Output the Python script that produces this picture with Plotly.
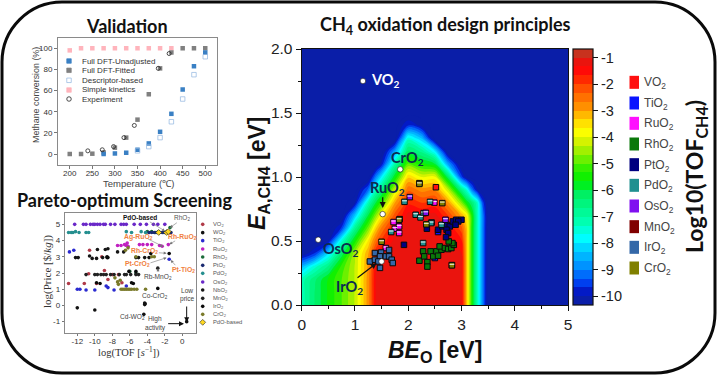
import plotly.graph_objects as go

W, H = 720, 382
SANS = "Liberation Sans"
CAL = "Lato"
SERIF = "Liberation Serif"

# ---------- Validation panel ----------
temp_unadj = [275, 300, 325, 350, 375, 400, 425, 450, 475, 500]
conv_unadj = [0, 0.5, 1.2, 4, 10, 21, 38, 61, 83, 96]
temp_fit = [200, 225, 250, 275, 300, 325, 350, 375, 400, 425, 450, 475, 500]
conv_fit = [0, 0, 0.3, 1.5, 6, 15.5, 32.5, 56.5, 81, 96, 100, 100, 100]
temp_desc = [350, 375, 400, 425, 450, 475, 500]
conv_desc = [3, 7, 15.5, 30.5, 52, 75, 92]
temp_simple = [200, 225, 250, 275, 300, 325, 350, 375, 400, 425]
conv_simple = [98, 100, 100, 100, 100, 100, 100, 100, 100, 100]
temp_exp = [240, 272, 297, 320, 343, 396, 420]
conv_exp = [3, 4, 7, 15.5, 27, 81, 95]

# ---------- Pareto panel: log TOF, log price ----------
pareto = {
    "VO2": ("#b03a48", [-13, -11.2, -10.7, -9.8, -8.9, -8.5, -8, -7.3, -6.9, -10.6, -9.2],
            [1.35, 1.35, 1.95, 1.35, 2.15, 1.6, 1.9, 1.9, 1.4, 3.4, 3.0]),
    "WO2": ("#111111", [-12, -10, -4.3, -4.3, -4.4, -4.25, 0.5], [-0.15, -0.28, 0.15, 0.05, -0.55, 0.1, -1]),
    "TiO2": ("#2a2ad0", [-12, -11.7, -11, -10, -8.7, -8.5, -7.8, -6.4, -12.9, -12.4, -1.5],
             [1, 1, 0.95, 0.95, 1.2, 1.1, 0.95, 1.2, 3.3, 3.4, 2.85]),
    "RuO2": ("#c020c0", [-6.3, -6.2, -6.4, -6.6, -7.4, -7, -4.9, -4.5, -4, -3.5, -2.6, -2.3, -1.6],
             [3.85, 3.65, 3.7, 3.75, 3.7, 3.7, 3.75, 3.75, 3.75, 3.75, 3.7, 3.65, 3.75]),
    "RhO2": ("#1c6b3a", [-4, -3.5, -3.1, -2.7, -2.2, -1.4, -5.3, -6.0], [4.55, 4.55, 4.5, 4.55, 4.5, 4.8, 2.0, 2.1]),
    "PtO2": ("#1a2a70", [-3.8, -3.5, -3.2, -2.9, -2.6, -2.3, -2, -1.6, -1.3], [4.5, 4.5, 4.5, 4.5, 4.5, 4.5, 4.5, 4.55, 4.5]),
    "PdO2": ("#258f8f", [-13, -12.7, -12.5, -12.2, -11.8, -11, -10.7, -6.4, -5.8, -4.7, -4.2],
             [4.5, 4.5, 4.5, 4.55, 4.5, 4.5, 4.5, 4.55, 4.5, 4.55, 4.5]),
    "OsO2": ("#6a28c8", [-12.3, -11.3, -11, -10.5, -10.2, -10, -9.7, -9.4, -9, -8.8, -8.2, -7.7, -7, -6.7, -6.4, -5.5, -4.8, -4.1, -3.3, -2.8, -2],
             [5] * 21),
    "NbO2": ("#151515", [-12.2, -11.9, -10.6, -10.3, -9.8, -9.1, -8.6, -7.4, -6.7, -8.8, -8.5, -9.7, -5.3, -5, -4.3, -3.8],
             [2.95, 2.95, 3.05, 2.9, 2.9, 2.95, 2.95, 3.3, 3.3, 3.45, 3.5, 3.45, 2.95, 2.95, 2.95, 2.95]),
    "MnO2": ("#222222", [-11, -10, -9.7, -9.3, -9, -8.7, -8.2, -7.8, -7.2, -6.6, -6.4, -5.9, -5.3, -5, -2.8],
             [1.9, 1.9, 1.9, 1.9, 1.9, 1.9, 1.9, 1.9, 1.9, 1.9, 1.9, 1.9, 1.9, 1.9, 2.3]),
    "IrO2": ("#0a0a0a", [-5.3, -6.1, -9.8, -9.4, -5.8, -5.6, -3.6, -2.8, -1.5, -8.6, -8.5],
             [2.1, 2.1, 1.4, 1.35, 1.4, 1.35, 3.2, 1.05, 3.2, 3.0, 2.95]),
    "CrO2": ("#7a7a2a", [-7.1, -7.7, -7.4, -7.3, -7, -6.8, -6.6, -6.4, -6.2, -6, -5.8, -5.5, -5.2, -4.2, -6.2, -6.5, -5.3, -3.5, -3.2],
             [1.55, 1.7, 1.45, 1.3, 1, 1, 1, 1, 1, 1, 1, 1, 1, 1, 3.55, 3.4, 3.0, 3.0, 3.0]),
}
pdo_x = [-2.7, -1.8, -1.6]
pdo_y = [4.5, 4.5, 4.55]

# ---------- Volcano map: values read column by column ----------
be_grid = [0, .25, .5, .75, 1, 1.25, 1.4, 1.5, 1.75, 2, 2.25, 2.5, 2.75, 3, 3.1, 3.2, 3.3, 3.4, 3.5, 5]
ea_grid = [0, .1, .2, .3, .4, .5, .6, .7, .8, .9, 1.0, 1.1, 1.2, 1.3, 1.4, 1.5, 2.0]
N = -10.5
R0 = -1.2  # the flat red core
log_tof_cols = [
    [-7.2, -7.2, -7.2, -8.5, -10.3, N, N, N, N, N, N, N, N, N, N, N, N],
    [-6.3, -6.3, -6.4, -7.45, -9.6, N, N, N, N, N, N, N, N, N, N, N, N],
    [-5.6, -5.6, -5.6, -6.6, -8, -10, N, N, N, N, N, N, N, N, N, N, N],
    [-5, -5, -5, -5.2, -6.2, -7.45, -9.6, N, N, N, N, N, N, N, N, N, N],
    [-4.3, -4.3, -4.3, -4.3, -4.4, -5.5, -6.75, -8.3, -10.1, N, N, N, N, N, N, N, N],
    [-2.8, -2.8, -2.8, -2.9, -3, -3.6, -4.8, -5.95, -7.2, -9.2, N, N, N, N, N, N, N],
    [R0, R0, R0, -1.3, -1.6, -2.4, -3.3, -4.6, -5.9, -7.2, -8.9, N, N, N, N, N, N],
    [R0, R0, R0, R0, -1.3, -1.9, -2.6, -3.7, -5.2, -6.5, -7.9, -9.9, N, N, N, N, N],
    [R0, R0, R0, R0, R0, R0, -1.45, -2.15, -3, -4.25, -5.7, -7, -8.7, N, N, N, N],
    [R0, R0, R0, R0, R0, R0, R0, R0, -1.75, -2.4, -3.4, -4.9, -6.2, -7.45, -9.6, N, N],
    [R0, R0, R0, R0, R0, R0, R0, -1.3, -2, -2.8, -4, -5.5, -6.75, -8.3, -10.1, N, N],
    [R0, R0, R0, R0, R0, R0, R0, R0, -1.9, -2.7, -3.9, -5.9, -7.9, N, N, N, N],
    [R0, R0, R0, R0, R0, R0, -1.3, -2, -2.9, -4.3, -6.2, -8.7, N, N, N, N, N],
    [R0, R0, R0, R0, -1.3, -1.6, -2.2, -3.1, -4.7, -6.6, -9.5, N, N, N, N, N, N],
    [-3.3, -3.3, -3.3, -3.3, -3.3, -3.3, -3.3, -3.7, -5.7, -7.5, -10.3, N, N, N, N, N, N],
    [-5.5, -5.5, -5.5, -5.5, -5.5, -5.5, -5.5, -5.5, -6.4, -9.1, N, N, N, N, N, N, N],
    [-7.3, -7.3, -7.3, -7.3, -7.3, -7.3, -7.3, -7.3, -7.4, -10.1, N, N, N, N, N, N, N],
    [-9, -9, -9, -9, -9, -9, -9, -9, -9.5, N, N, N, N, N, N, N, N],
    [N] * 17,
    [N] * 17,
]

oxide_pts = {
    "VO2": ("#ff1010", [2.52], [0.92]),
    "TiO2": ("#0a14ff", [2.56, 2.5], [0.57, 0.367]),
    "RuO2": ("#ff10ff", [1.725, 1.75, 1.83, 1.83, 2.49, 1.58, 2.44], [0.648, 0.596, 0.614, 0.562, 0.8, 0.445, 0.645]),
    "RhO2": ("#0a780a", [2.21, 2.28, 2.3, 2.36, 2.36, 2.42, 2.47, 2.53, 2.56, 2.625, 2.59, 2.69, 2.75, 2.81, 2.856, 2.83, 2.76, 2.82],
             [0.346, 0.419, 0.38, 0.335, 0.3, 0.419, 0.38, 0.419, 0.385, 0.432, 0.458, 0.445, 0.437, 0.445, 0.47, 0.484, 0.497, 0.312]),
    "PtO2": ("#000080", [2.35, 2.56, 2.64, 2.72, 2.78, 2.72, 2.75, 2.71, 2.84, 2.9, 3.0, 2.94, 2.89, 1.92],
             [0.596, 0.588, 0.614, 0.627, 0.614, 0.588, 0.562, 0.53, 0.653, 0.666, 0.666, 0.653, 0.627, 0.47]),
    "PdO2": ("#209090", [1.68, 2.14, 2.23, 2.29, 2.43, 2.41, 2.28, 1.93, 2.625],
             [0.57, 0.705, 0.684, 0.718, 0.64, 0.806, 0.484, 0.806, 0.627]),
    "OsO2": ("#8010f0", [2.03, 2.33, 2.7], [0.843, 0.72, 0.666]),
    "MnO2": ("#800000", [2.21, 1.84], [0.952, 0.671]),
    "IrO2": ("#3468a8", [1.375, 1.49, 1.64, 1.28, 1.375, 1.47, 1.58, 1.64, 1.69, 1.71, 1.47, 1.44],
             [0.406, 0.41, 0.43, 0.34, 0.354, 0.38, 0.38, 0.38, 0.354, 0.328, 0.29, 0.34]),
    "CrO2": ("#808000", [2.21, 2.64, 2.34, 1.5, 1.83, 2.82], [0.946, 0.796, 0.63, 0.494, 0.666, 0.31]),
}
highlighted = ["RuO2", "PdO2", "OsO2", "CrO2", "MnO2"]
named_x = [1.15, 1.85, 1.52, 0.31, 1.5]
named_y = [1.75, 1.06, 0.71, 0.51, 0.34]

cb_ticks = [-1, -2, -3, -4, -5, -6, -7, -8, -9, -10]
cb_scale = [
    [0, "#0a1ea8"], [0.035, "#0a1ea8"], [0.06, "#0018d0"], [0.09, "#0040f0"], [0.14, "#0080ff"], [0.21, "#00c0ff"],
    [0.27, "#00ffff"], [0.34, "#00ffb0"], [0.45, "#00f060"], [0.5, "#00f000"], [0.55, "#30f000"],
    [0.65, "#c8f000"], [0.7, "#ffff00"], [0.75, "#ffd000"], [0.79, "#ff9a00"], [0.86, "#ff6000"],
    [0.91, "#ff2a00"], [0.95, "#ff0808"], [0.975, "#f80808"], [1, "#c8321e"],
]


def dom_x(a, b):
    return [a / W, b / W]


def dom_y(top, bottom):
    return [1 - bottom / H, 1 - top / H]


fig = go.Figure()


def val(x, y, sym, col, size, lw=0, lc=None):
    fig.add_trace(go.Scatter(x=x, y=y, mode="markers", xaxis="x", yaxis="y", showlegend=False,
                             marker=dict(symbol=sym, color=col, size=size,
                                         line=dict(width=lw, color=lc or col))))


val(temp_simple, conv_simple, "square", "#ffb4bc", 4.5)
val(temp_fit, conv_fit, "square", "#808080", 4.5)
val(temp_unadj, conv_unadj, "square", "#3a80c4", 4.5)
val(temp_desc, conv_desc, "square-open", "#8fb4e0", 4.5, 0.7)
val(temp_exp, conv_exp, "circle-open", "#222222", 4, 0.8)

for name, (c, xs, ys) in pareto.items():
    fig.add_trace(go.Scatter(x=xs, y=ys, mode="markers", xaxis="x2", yaxis="y2", name=name, showlegend=False,
                             marker=dict(color=c, size=3.6)))
fig.add_trace(go.Scatter(x=pdo_x, y=pdo_y, mode="markers", xaxis="x2", yaxis="y2", showlegend=False,
                         marker=dict(symbol="diamond", color="#ffd820", size=4.5, line=dict(width=0.6, color="#222"))))

fig.add_trace(go.Contour(
    x=be_grid, y=ea_grid, z=[list(r) for r in zip(*log_tof_cols)],
    xaxis="x3", yaxis="y3", colorscale=cb_scale, zmin=-10.33, zmax=-0.67, zauto=False,
    contours=dict(start=-10.33, end=-0.67, size=1 / 3, coloring="fill", showlines=False),
    line=dict(width=0), hoverinfo="skip",
    colorbar=dict(x=573 / W, xanchor="left", y=1 - 305 / H, yanchor="bottom", len=256 / H, lenmode="fraction",
                  thickness=20, thicknessmode="pixels", xpad=0, ypad=0, outlinewidth=1.2, outlinecolor="#111",
                  tickmode="array", tickvals=cb_ticks, ticktext=[str(t) for t in cb_ticks],
                  ticks="outside", ticklen=5, tickcolor="#111", tickfont=dict(family=SANS, size=14.5, color="#222")),
))
for name, (c, xs, ys) in oxide_pts.items():
    fig.add_trace(go.Scatter(x=xs, y=ys, mode="markers", xaxis="x3", yaxis="y3", name=name, showlegend=False,
                             marker=dict(symbol="square", color=c, size=5.5, line=dict(width=1, color="#0a0a0a"))))
    if name in highlighted:
        fig.add_trace(go.Scatter(x=xs, y=[v + 0.008 for v in ys], mode="markers", xaxis="x3", yaxis="y3", showlegend=False,
                                 marker=dict(symbol="line-ew", size=3.5, line=dict(width=1, color="#f4f4f4"))))
fig.add_trace(go.Scatter(x=named_x, y=named_y, mode="markers", xaxis="x3", yaxis="y3", showlegend=False,
                         marker=dict(color="white", size=5.5, line=dict(width=0.6, color="#111"))))

# legend keys on a pixel-space overlay axis
leg_val = [("square", "#3a80c4", 0.7), ("square", "#808080", 0.7), ("square-open", "#8fb4e0", 0.7),
           ("square", "#ffb4bc", 0.7), ("circle-open", "#222222", 0.8)]
leg_val_y = [61, 70.3, 80.3, 90, 99]
leg_val_names = ["Full DFT-Unadjusted", "Full DFT-Fitted", "Descriptor-based", "Simple kinetics", "Experiment"]
for (s, c, lw), y in zip(leg_val, leg_val_y):
    fig.add_trace(go.Scatter(x=[69], y=[y], mode="markers", xaxis="x4", yaxis="y4", showlegend=False,
                             marker=dict(symbol=s, color=c, size=4.5, line=dict(width=lw, color=c))))

par_names = list(pareto.keys())
par_y = [185 + z / 3 for z in [118, 143, 167, 192, 216, 241, 265, 291, 315, 340, 364, 388]]
for n, y in zip(par_names, par_y):
    fig.add_trace(go.Scatter(x=[202.7], y=[y], mode="markers", xaxis="x4", yaxis="y4", showlegend=False,
                             marker=dict(color=pareto[n][0], size=3.6)))
fig.add_trace(go.Scatter(x=[202.7], y=[185 + 412 / 3], mode="markers", xaxis="x4", yaxis="y4", showlegend=False,
                         marker=dict(symbol="diamond", color="#ffd820", size=4.5, line=dict(width=0.6, color="#222"))))

ann = []


def note(x, y, text, size=10, color="#333", family=SANS, anchor="center", bold=False, angle=0):
    ann.append(dict(x=x / W, y=1 - y / H, xref="paper", yref="paper", text=f"<b>{text}</b>" if bold else text,
                    showarrow=False, xanchor=anchor, yanchor="middle", textangle=angle,
                    font=dict(family=family, size=size, color=color, weight="bold" if bold else "normal")))


def arrow(x0, y0, x1, y1, color="#111", w=1.2, head=2):
    ann.append(dict(x=x1 / W, y=1 - y1 / H, xref="paper", yref="paper", ax=x0 - x1, ay=y0 - y1, text="",
                    showarrow=True, arrowhead=head, arrowsize=1, arrowwidth=w, arrowcolor=color))


def sub2(s):
    return s.replace("2", "<sub>2</sub>")


# titles
note(127, 26, "Validation", 18, "#111", CAL, bold=True)
note(124, 200, "Pareto-optimum Screening", 18, "#111", CAL, bold=True)
note(445, 25, "CH<sub>4</sub> oxidation design principles", 18, "#111", CAL, bold=True)

# validation texts
for n, y in zip(leg_val_names, leg_val_y):
    note(80, y, n, 8, "#333", anchor="left")
note(138, 183, "Temperature (℃)", 9.5, "#444")
note(36, 95, "Methane conversion (%)", 8.9, "#444", angle=-90)

# pareto texts
for n, y in zip(par_names, par_y):
    note(210.7, y, sub2(n), 5.8, "#555", anchor="left")
note(210.7, 185 + 412 / 3, "PdO-based", 5.8, "#555", anchor="left")
note(129, 352, "log(TOF [<i>s</i><sup>−1</sup>])", 10.5, "#333", SERIF)
note(47, 272, "log(Price [$/<i>kg</i>])", 11, "#333", SERIF, angle=-90)
note(140, 217, "PdO-based", 6.5, "#111", bold=True)
note(182, 218, sub2("RhO2"), 6.5, "#555")
for x, y, t in [(138, 237, "Ag-RuO2"), (182, 237, "Rh-RuO2"), (144, 251, "Rh-CrO2"), (137, 264, "Pt-CrO2"), (183, 270, "Pt-TiO2")]:
    note(x, y, sub2(t), 6.8, "#f08040", bold=True)
for x, y, t in [(158, 277, "Rb-MnO2"), (155, 296, "Co-CrO2"), (132, 317, "Cd-WO2"), (155, 319, "High"), (155, 328, "activity"),
                (187, 290, "Low"), (187, 299, "price")]:
    note(x, y, sub2(t), 6.6, "#444")


def z2(xz, yz):
    return xz / 3, 185 + yz / 3


for a, b in [((440, 160), (490, 185)), ((530, 165), (508, 178)), ((472, 203), (500, 205)), ((447, 235), (500, 218)),
             ((530, 245), (512, 225)), ((445, 108), (495, 138)), ((535, 110), (510, 128)), ((474, 265), (474, 250))]:
    arrow(*z2(*a), *z2(*b), color="#777", w=0.6, head=2)
arrow(*z2(560, 360), *z2(560, 412), color="#111", w=1, head=2)
arrow(*z2(500, 416), *z2(552, 416), color="#111", w=1, head=2)

# main chart texts
NAVY = "#0b2b50"
note(369, 80, "VO<sub>2</sub>", 14.5, "white", CAL, anchor="left", bold=True)
note(389, 158, "CrO<sub>2</sub>", 14.5, NAVY, CAL, anchor="left", bold=True)
note(368, 188, "RuO<sub>2</sub>", 14.5, NAVY, CAL, anchor="left", bold=True)
note(321, 249, "OsO<sub>2</sub>", 14.5, NAVY, CAL, anchor="left", bold=True)
note(334, 287, "IrO<sub>2</sub>", 14.5, NAVY, CAL, anchor="left", bold=True)
arrow(382.7, 195.7, 382.7, 208)
arrow(356, 279, 376.7, 263)
note(435, 351, "<i>BE</i><sub>O</sub> [eV]", 23, "#111", SANS, bold=True)
note(258, 174, "<i>E</i><sub>A,CH4</sub> [eV]", 23, "#111", SANS, bold=True, angle=-90)
note(695, 177, "Log10(TOF<sub>CH4</sub>)", 23, "#111", CAL, bold=True, angle=-90)

# main legend
main_names = list(oxide_pts.keys())
main_y = [30 + z / 3 for z in [157, 219, 280, 342, 404, 466, 528, 590, 652, 714]]
shapes = []
for n, y in zip(main_names, main_y):
    shapes.append(dict(type="rect", xref="x4", yref="y4", x0=629.5, x1=639, y0=y - 6.5, y1=y + 6.5,
                       fillcolor=oxide_pts[n][0], line=dict(width=0)))
    note(641.7, y + 1, sub2(n), 12, "#444", anchor="left")

# rounded frame
L, R, T, B = 2, 715, 2, 373
r, k = 60, 27
frame = (f"M {L + r} {T} L {R - r} {T} C {R - k} {T} {R} {T + k} {R} {T + r} L {R} {B - r} "
         f"C {R} {B - k} {R - k} {B} {R - r} {B} L {L + r} {B} C {L + k} {B} {L} {B - k} {L} {B - r} "
         f"L {L} {T + r} C {L} {T + k} {L + k} {T} {L + r} {T} Z")
shapes.append(dict(type="path", path=frame, xref="x4", yref="y4", line=dict(color="#0a0a0a", width=3)))

small = dict(family=SANS, size=8, color="#333")
fig.update_layout(
    width=W, height=H, autosize=False, margin=dict(l=0, r=0, t=0, b=0, autoexpand=False), showlegend=False,
    paper_bgcolor="white", plot_bgcolor="rgba(0,0,0,0)", annotations=ann, shapes=shapes,
    xaxis=dict(domain=dom_x(58, 217), range=[174, 526], anchor="y", tickvals=[200, 250, 300, 350, 400, 450, 500],
               ticks="outside", ticklen=3, tickcolor="#777", tickwidth=0.7, showgrid=False, zeroline=False,
               ticklabelstandoff=-3,
               showline=True, mirror=True, linecolor="#8a8a8a", linewidth=1, tickfont=small),
    yaxis=dict(domain=dom_y(38, 165), range=[-10.4, 109.7], anchor="x", tickvals=[0, 20, 40, 60, 80, 100],
               ticks="outside", ticklen=3, tickcolor="#777", tickwidth=0.7, showgrid=False, zeroline=False,
               showline=True, mirror=True, linecolor="#8a8a8a", linewidth=1, tickfont=small),
    xaxis2=dict(domain=dom_x(64.7, 195.7), range=[-13.44, 1.53], anchor="y2", tickvals=[-12, -10, -8, -6, -4, -2, 0],
                ticktext=["-12", "-10", "-8", "-6", "-4", "-2", "0"], ticklabelstandoff=-2,
                ticks="outside", ticklen=2, tickcolor="#777", tickwidth=0.7, showgrid=False, zeroline=False,
                showline=True, mirror=True, linecolor="#8a8a8a", linewidth=1, tickfont=small),
    yaxis2=dict(domain=dom_y(213, 333), range=[-1.7, 5.7], anchor="x2", tickvals=[-1, 0, 1, 2, 3, 4, 5],
                ticktext=["-1", "0", "1", "2", "3", "4", "5"],
                ticks="outside", ticklen=2, tickcolor="#777", tickwidth=0.7, showgrid=False, zeroline=False,
                showline=True, mirror=True, linecolor="#8a8a8a", linewidth=1, tickfont=small),
    xaxis3=dict(domain=dom_x(301.7, 568), range=[0, 5], anchor="y3", dtick=1, ticks="outside", ticklen=5, tickcolor="#111",
                minor=dict(dtick=0.5, ticks="outside", ticklen=3, tickcolor="#111"),
                showgrid=False, zeroline=False, showline=True, mirror=True, linecolor="#111", linewidth=1.2,
                tickfont=dict(family=SANS, size=15.5, color="#222")),
    yaxis3=dict(domain=dom_y(49, 305), range=[0, 2], anchor="x3", dtick=0.5, tickformat=".1f", ticks="outside", ticklen=5, tickcolor="#111",
                minor=dict(dtick=0.25, ticks="outside", ticklen=3, tickcolor="#111"),
                showgrid=False, zeroline=False, showline=True, mirror=True, linecolor="#111", linewidth=1.2,
                tickfont=dict(family=SANS, size=15.5, color="#222")),
    xaxis4=dict(domain=[0, 1], range=[0, W], anchor="y4", visible=False, fixedrange=True),
    yaxis4=dict(domain=[0, 1], range=[H, 0], anchor="x4", visible=False, fixedrange=True),
)
fig.write_html("out.html", config={"displayModeBar": False}, post_script="document.body.style.margin='0';")
